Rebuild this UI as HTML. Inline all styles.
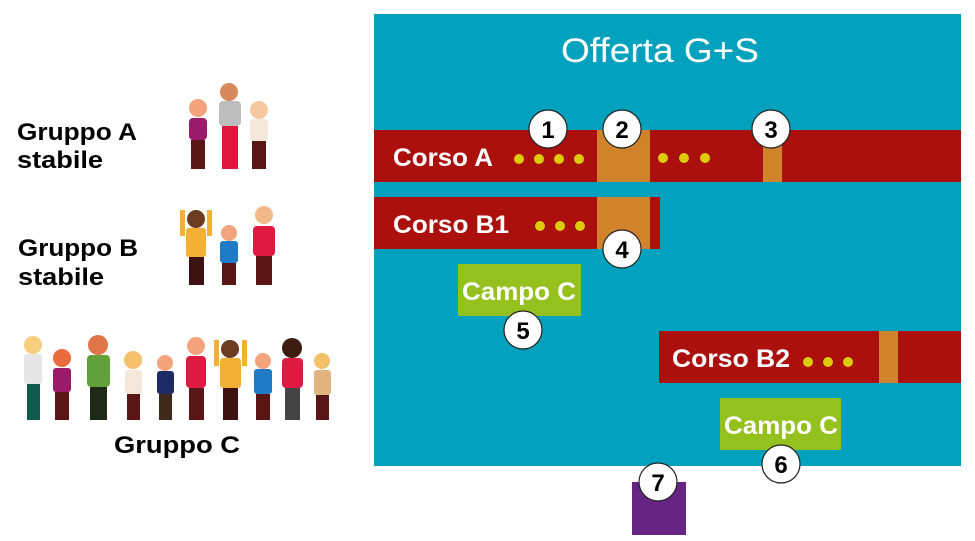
<!DOCTYPE html>
<html><head><meta charset="utf-8"><style>
html,body{margin:0;padding:0;background:#fff;width:975px;height:541px;overflow:hidden}
svg{display:block}
text{font-family:"Liberation Sans",sans-serif}
</style></head><body>
<svg width="975" height="541" viewBox="0 0 975 541">
<defs>
<g id="p">
</g>
</defs>
<!-- teal area -->
<rect x="374" y="14" width="587" height="452" fill="#02a2be"/>
<text x="660" y="62" font-size="34" fill="#fff" text-anchor="middle" textLength="198" lengthAdjust="spacingAndGlyphs">Offerta G+S</text>
<!-- Corso A -->
<rect x="374" y="130" width="587" height="52" fill="#ab100d"/>
<rect x="597" y="130" width="53" height="52" fill="#d0832a"/>
<rect x="763" y="130" width="19" height="52" fill="#d0832a"/>
<text x="393" y="166" font-size="25" font-weight="bold" fill="#fff" textLength="100" lengthAdjust="spacingAndGlyphs">Corso A</text>
<g fill="#dccb07"><circle cx="519" cy="159" r="5"/><circle cx="539" cy="159" r="5"/><circle cx="559" cy="159" r="5"/><circle cx="579" cy="159" r="5"/><circle cx="663" cy="158" r="5"/><circle cx="684" cy="158" r="5"/><circle cx="705" cy="158" r="5"/></g>
<!-- Corso B1 -->
<rect x="374" y="197" width="286" height="52" fill="#ab100d"/>
<rect x="597" y="197" width="53" height="52" fill="#d0832a"/>
<text x="393" y="233" font-size="25" font-weight="bold" fill="#fff" textLength="116" lengthAdjust="spacingAndGlyphs">Corso B1</text>
<g fill="#dccb07"><circle cx="540" cy="226" r="5"/><circle cx="560" cy="226" r="5"/><circle cx="580" cy="226" r="5"/></g>
<!-- Campo C 1 -->
<rect x="458" y="264" width="123" height="52" fill="#95c11f"/>
<text x="519" y="300" font-size="25" font-weight="bold" fill="#fff" text-anchor="middle" textLength="114" lengthAdjust="spacingAndGlyphs">Campo C</text>
<!-- Corso B2 -->
<rect x="659" y="331" width="302" height="52" fill="#ab100d"/>
<rect x="879" y="331" width="19" height="52" fill="#d0832a"/>
<text x="672" y="367" font-size="25" font-weight="bold" fill="#fff" textLength="118" lengthAdjust="spacingAndGlyphs">Corso B2</text>
<g fill="#dccb07"><circle cx="808" cy="362" r="5"/><circle cx="828" cy="362" r="5"/><circle cx="848" cy="362" r="5"/></g>
<!-- Campo C 2 -->
<rect x="720" y="398" width="121" height="52" fill="#95c11f"/>
<text x="781" y="434" font-size="25" font-weight="bold" fill="#fff" text-anchor="middle" textLength="114" lengthAdjust="spacingAndGlyphs">Campo C</text>
<!-- purple -->
<rect x="632" y="482" width="54" height="53" fill="#662483"/>
<!-- number circles -->
<g stroke="#222" stroke-width="1.2" fill="#fff">
<circle cx="548" cy="129" r="19"/><circle cx="622" cy="129" r="19"/><circle cx="771" cy="129" r="19"/><circle cx="622" cy="249" r="19"/><circle cx="523" cy="330" r="19"/><circle cx="781" cy="464" r="19"/><circle cx="658" cy="482" r="19"/>
</g>
<g font-size="24" font-weight="bold" fill="#000" text-anchor="middle">
<text x="548" y="138">1</text><text x="622" y="138">2</text><text x="771" y="138">3</text><text x="622" y="258">4</text><text x="523" y="339">5</text><text x="781" y="473">6</text><text x="658" y="491">7</text>
</g>
<!-- left labels -->
<g font-size="24" font-weight="bold" fill="#000">
<text x="17" y="140" textLength="120" lengthAdjust="spacingAndGlyphs">Gruppo A</text>
<text x="17" y="168" textLength="86" lengthAdjust="spacingAndGlyphs">stabile</text>
<text x="18" y="256" textLength="120" lengthAdjust="spacingAndGlyphs">Gruppo B</text>
<text x="18" y="285" textLength="86" lengthAdjust="spacingAndGlyphs">stabile</text>
<text x="114" y="453" textLength="126" lengthAdjust="spacingAndGlyphs">Gruppo  C</text>
</g>
<!-- people: head, torso, legs -->
<!-- Group A -->
<g>
<circle cx="198" cy="108" r="9" fill="#f3a47c"/><rect x="189" y="118" width="18" height="22" rx="4" fill="#9b1b6b"/><rect x="191" y="140" width="14" height="29" fill="#5a1515"/>
<circle cx="229" cy="92" r="9" fill="#d7895c"/><rect x="219" y="101" width="22" height="25" rx="4" fill="#bdbdbd"/><rect x="222" y="126" width="16" height="43" fill="#e0173d"/>
<circle cx="259" cy="110" r="9" fill="#f6c8a0"/><rect x="250" y="119" width="18" height="22" rx="4" fill="#f3e8da"/><rect x="252" y="141" width="14" height="28" fill="#5a1515"/>
</g>
<!-- Group B -->
<g>
<circle cx="196" cy="219" r="9" fill="#6b3b22"/><rect x="186" y="228" width="20" height="29" rx="3" fill="#f2b135"/><rect x="189" y="257" width="15" height="28" fill="#3e1213"/><rect x="180" y="210" width="5" height="26" fill="#f2b135"/><rect x="207" y="210" width="5" height="26" fill="#f2b135"/>
<circle cx="229" cy="233" r="8" fill="#f3a47c"/><rect x="220" y="241" width="18" height="22" rx="3" fill="#1f7bc6"/><rect x="222" y="263" width="14" height="22" fill="#5a1515"/>
<circle cx="264" cy="215" r="9" fill="#f3b98a"/><rect x="253" y="226" width="22" height="30" rx="4" fill="#df1a40"/><rect x="256" y="256" width="16" height="29" fill="#5a1515"/>
</g>
<!-- Group C -->
<g>
<circle cx="33" cy="345" r="9" fill="#f6d07e"/><rect x="24" y="354" width="18" height="30" rx="3" fill="#e6e6e6"/><rect x="27" y="384" width="13" height="36" fill="#0f5a4a"/>
<circle cx="62" cy="358" r="9" fill="#e96a3a"/><rect x="53" y="368" width="18" height="24" rx="3" fill="#9b1b6b"/><rect x="55" y="392" width="14" height="28" fill="#5a1515"/>
<circle cx="98" cy="345" r="10" fill="#e0754a"/><rect x="87" y="355" width="23" height="32" rx="4" fill="#62a03c"/><rect x="90" y="387" width="17" height="33" fill="#1f2a16"/>
<circle cx="133" cy="360" r="9" fill="#f6c069"/><rect x="125" y="370" width="17" height="24" rx="3" fill="#f3e8da"/><rect x="127" y="394" width="13" height="26" fill="#5a1515"/>
<circle cx="165" cy="363" r="8" fill="#f3a47c"/><rect x="157" y="371" width="17" height="23" rx="3" fill="#1d2a63"/><rect x="159" y="394" width="13" height="26" fill="#3e2a1a"/>
<circle cx="196" cy="346" r="9" fill="#f3a47c"/><rect x="186" y="356" width="20" height="32" rx="4" fill="#df1a40"/><rect x="189" y="388" width="15" height="32" fill="#5a1515"/>
<circle cx="230" cy="349" r="9" fill="#6b3b22"/><rect x="220" y="358" width="21" height="30" rx="3" fill="#f2b135"/><rect x="223" y="388" width="15" height="32" fill="#3e1213"/><rect x="214" y="340" width="5" height="26" fill="#f2b135"/><rect x="242" y="340" width="5" height="26" fill="#f2b135"/>
<circle cx="263" cy="361" r="8" fill="#f3a47c"/><rect x="254" y="369" width="18" height="25" rx="3" fill="#1f7bc6"/><rect x="256" y="394" width="14" height="26" fill="#5a1515"/>
<circle cx="292" cy="348" r="10" fill="#3a1c10"/><rect x="282" y="358" width="21" height="30" rx="4" fill="#df1a40"/><rect x="285" y="388" width="15" height="32" fill="#444"/>
<circle cx="322" cy="361" r="8" fill="#f6c069"/><rect x="314" y="370" width="17" height="25" rx="3" fill="#e0b47e"/><rect x="316" y="395" width="13" height="25" fill="#5a1515"/>
</g>
</svg>
</body></html>
